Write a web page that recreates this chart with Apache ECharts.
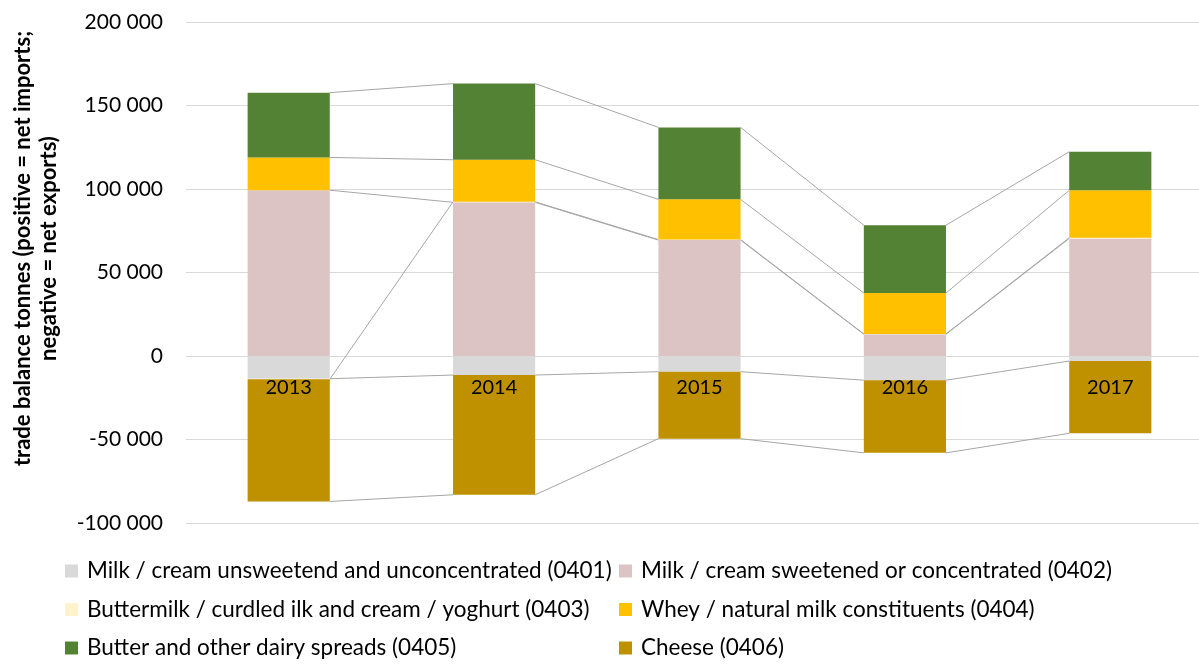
<!DOCTYPE html>
<html>
<head>
<meta charset="utf-8">
<title>Dairy trade balance</title>
<script src="https://cdn.jsdelivr.net/npm/echarts@6/dist/echarts.min.js"></script>
<style>
  html, body { margin: 0; padding: 0; background: #fff; }
  #main { width: 1199px; height: 666px; }
</style>
</head>
<body>
<div id="main"></div>
<script>
// years on the x axis
const years = ["2013", "2014", "2015", "2016", "2017"];

// trade balance in tonnes, per product group
const milkUnsweetened = [-13600, -11400, -9400, -14500, -3000];   // 0401
const milkSweetened   = [99300, 92000, 69400, 13000, 70400];      // 0402
const buttermilk      = [-300, 300, 300, 200, 400];               // 0403
const whey            = [19600, 25200, 24100, 24500, 28400];      // 0404
const butter          = [38800, 45600, 43100, 40600, 23100];      // 0405
const cheese          = [-73200, -71700, -40100, -43500, -43300]; // 0406

const yTicks = [-100000, -50000, 0, 50000, 100000, 150000, 200000];

const seriesInfo = [
  { name: "Milk / cream unsweetend and unconcentrated (0401)", data: milkUnsweetened, color: "#d9d9d9" },
  { name: "Milk / cream sweetened or concentrated (0402)", data: milkSweetened, color: "#dbc4c3" },
  { name: "Buttermilk / curdled ilk and cream / yoghurt (0403)", data: buttermilk, color: "#fff2cc" },
  { name: "Whey / natural milk constituents (0404)", data: whey, color: "#ffc000" },
  { name: "Butter and other dairy spreads (0405)", data: butter, color: "#548235" },
  { name: "Cheese (0406)", data: cheese, color: "#bf9000" }
];

// end of each segment in the stack (positives and negatives stack separately)
function stackEnds(i) {
  let pos = 0, neg = 0;
  return seriesInfo.map(function (s) {
    const v = s.data[i];
    if (v >= 0) { pos += v; return pos; }
    neg += v; return neg;
  });
}

const fmt = function (v) {
  const s = String(Math.abs(v));
  const out = s.replace(/\B(?=(\d{3})+(?!\d))/g, " ");
  return (v < 0 ? "-" : "") + out;
};

const font = "Lato";

var myChart = echarts.init(document.getElementById("main"));

const barSeries = seriesInfo.map(function (s) {
  return {
    name: s.name,
    type: "bar",
    stack: "total",
    barWidth: "40%",
    itemStyle: { color: s.color },
    data: s.data
  };
});

// series lines linking segment ends of neighbouring bars
const linkSeries = {
  type: "custom",
  silent: true,
  z: 1,
  data: years.slice(0, -1).map(function (y, i) { return [i, 0]; }),
  renderItem: function (params, api) {
    const i = api.value(0);
    const a = stackEnds(i), b = stackEnds(i + 1);
    const half = api.size([1, 0])[0] * 0.2;
    const children = a.map(function (va, k) {
      const p1 = api.coord([i, va]);
      const p2 = api.coord([i + 1, b[k]]);
      return {
        type: "line",
        shape: { x1: p1[0] + half, y1: p1[1], x2: p2[0] - half, y2: p2[1] },
        style: { stroke: "#a6a6a6", lineWidth: 1 }
      };
    });
    return { type: "group", children: children };
  }
};

// category labels sit just under the zero line, over the bars
const yearLabels = {
  type: "custom",
  silent: true,
  z: 10,
  data: years.map(function (y, i) { return [i, 0]; }),
  renderItem: function (params, api) {
    const p = api.coord([api.value(0), 0]);
    return {
      type: "text",
      x: p[0],
      y: p[1] + 22,
      style: {
        text: years[params.dataIndex],
        fontFamily: font,
        fontSize: 20,
        fill: "#000",
        align: "center",
        verticalAlign: "top"
      }
    };
  }
};

const legendBase = {
  orient: "vertical",
  top: 559,
  padding: 0,
  itemWidth: 13,
  itemHeight: 13,
  itemGap: 14.5,
  icon: "rect",
  selectedMode: false,
  textStyle: { fontFamily: font, fontSize: 22.5, color: "#000", lineHeight: 24, padding: [0, 0, 0, 4] }
};

var option = {
  animation: false,
  textStyle: { fontFamily: font },
  grid: { left: 186, top: 22, width: 1027, height: 501, outerBoundsMode: "none", containLabel: false },
  legend: [
    Object.assign({}, legendBase, { left: 65, data: [seriesInfo[0].name, seriesInfo[2].name, seriesInfo[4].name] }),
    Object.assign({}, legendBase, { left: 619, data: [seriesInfo[1].name, seriesInfo[3].name, seriesInfo[5].name] })
  ],
  xAxis: {
    type: "category",
    data: years,
    axisLine: { show: false },
    axisTick: { show: false },
    axisLabel: { show: false }
  },
  yAxis: {
    type: "value",
    min: yTicks[0],
    max: yTicks[yTicks.length - 1],
    interval: 50000,
    name: "trade balance tonnes (positive = net imports;\nnegative = net exports)",
    nameLocation: "middle",
    nameRotate: 90,
    nameGap: 124,
    nameTextStyle: {
      fontFamily: font,
      fontWeight: "bold",
      fontSize: 22,
      lineHeight: 26,
      color: "#000",
      padding: [0, 0, 0, 48]
    },
    axisLine: { show: false },
    axisTick: { show: false },
    splitLine: { lineStyle: { color: "#d9d9d9", width: 1 } },
    axisLabel: { margin: 23, fontSize: 21, color: "#000", fontFamily: font, formatter: fmt }
  },
  series: barSeries.concat([linkSeries, yearLabels])
};

myChart.setOption(option);
</script>
</body>
</html>
